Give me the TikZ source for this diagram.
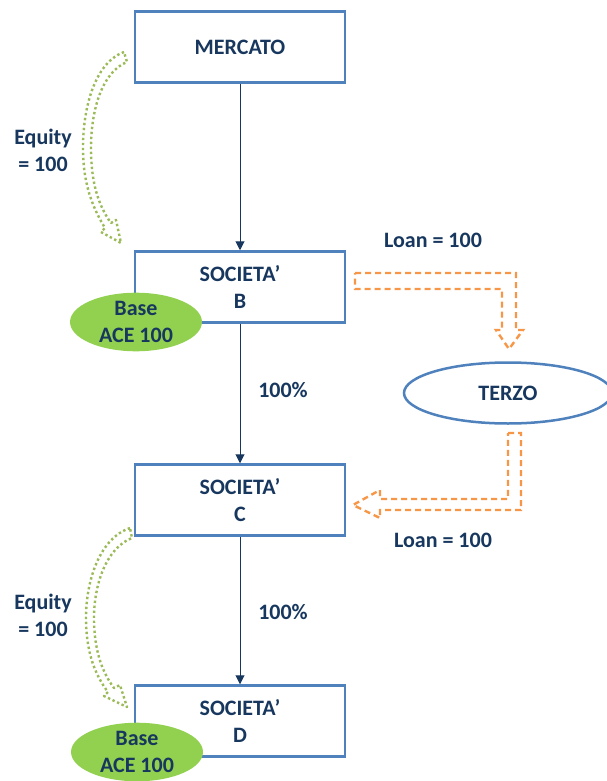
\documentclass[tikz,border=0pt]{standalone}
\usepackage{fontspec}
\setmainfont{Carlito}
\usetikzlibrary{arrows.meta,shapes.geometric}
\definecolor{boxblue}{HTML}{4F81BD}
\definecolor{navy}{HTML}{17375E}
\definecolor{basegreen}{HTML}{92D050}
\definecolor{dotgreen}{HTML}{9BBB59}
\definecolor{loanorange}{HTML}{F79646}
\begin{document}
\begin{tikzpicture}[x=1pt,y=-1pt,
    every node/.style={text=navy, font=\fontsize{22}{27}\selectfont\bfseries, align=center},
    company/.style={rectangle, draw=boxblue, line width=2.5pt, fill=white, minimum width=210pt, minimum height=71pt},
    base/.style={ellipse, fill=basegreen, minimum width=132pt, minimum height=57pt, inner sep=0pt},
    flow/.style={navy, line width=1pt, -{Triangle[width=9pt,length=9pt]}},
    equity/.style={dotgreen, line width=2.4pt, dash pattern=on 2.4pt off 2.6pt, line join=round},
    loan/.style={loanorange, line width=2.4pt, dash pattern=on 6pt off 4pt}]
        \useasboundingbox (0,0) rectangle (606,781);

        \draw[equity] (124,52) .. controls (96,62) and (83,105) .. (83,148) .. controls (83,185) and (93,208) .. (105,228)
            -- (101,232) -- (121,243) -- (116,220) -- (111,223)
            .. controls (98,205) and (91,182) .. (91,148) .. controls (91,110) and (102,72) .. (127,62) -- cycle;
        \draw[equity] (130,528) .. controls (100,538) and (86,580) .. (86,618) .. controls (86,652) and (95,675) .. (108,692)
            -- (104,696) -- (127,707) -- (120,685) -- (114,688)
            .. controls (102,672) and (94,650) .. (94,618) .. controls (94,585) and (106,548) .. (132,538) -- cycle;

        \draw[loan] (355,273) -- (516,273) -- (516,330) -- (523,330) -- (509,349) -- (496,330) -- (502,330) -- (502,289) -- (355,289) -- cycle;
        \draw[loan] (508,433) -- (521,433) -- (521,510) -- (380,510) -- (380,518) -- (353,505) -- (380,490) -- (380,499) -- (508,499) -- cycle;

        \node[company] (mercato) at (240, 47) {MERCATO};
        \node[company] (socB) at (240, 287) {SOCIETA’\\B};
        \node[company] (socC) at (240, 500) {SOCIETA’\\C};
        \node[company] (socD) at (240, 721) {SOCIETA’\\D};
        \node[ellipse, draw=boxblue, line width=2.5pt, fill=white, minimum width=208pt, minimum height=61pt] (terzo) at (508, 393) {TERZO};

        \node[base] (baseB) at (136, 322) {Base\\ACE 100};
        \node[base] (baseD) at (137, 752) {Base\\ACE 100};

        \draw[flow] (mercato) -- (socB);
        \draw[flow] (socB) -- (socC);
        \draw[flow] (socC) -- (socD);

        \node (eqA) at (43, 150) {Equity\\= 100};
        \node (eqB) at (43, 615) {Equity\\= 100};
        \node (loanA) at (433, 240) {Loan = 100};
        \node (loanB) at (443, 540) {Loan = 100};
        \node (pctA) at (283, 390) {100\%};
        \node (pctB) at (283, 612) {100\%};

    \end{tikzpicture}
\end{document}
